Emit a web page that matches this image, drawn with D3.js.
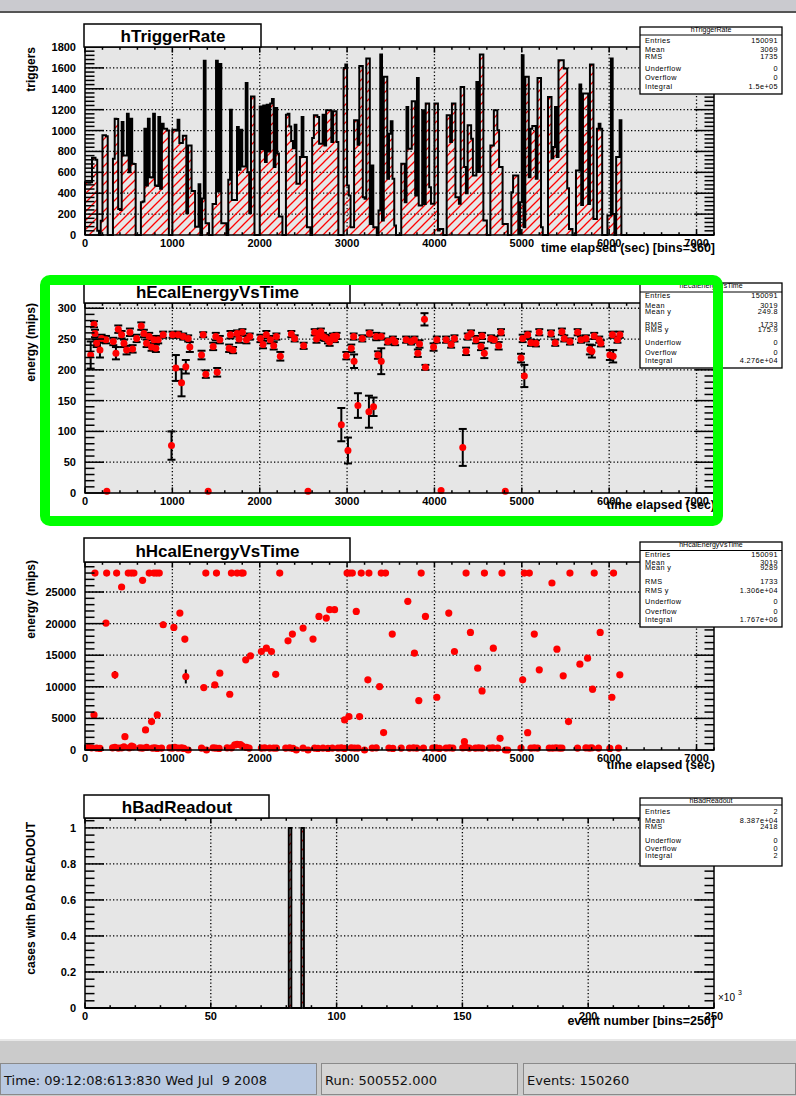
<!DOCTYPE html>
<meta charset="utf-8">
<script src="https://d3js.org/d3.v7.min.js"></script>
<style>
  body { margin: 0; background: #fff; }
  svg text { font-family: "Liberation Sans", Arial, sans-serif; }
</style>
<body>
<div id="canvas"></div>
<script>

// ---------- data ----------

// hTriggerRate: 360 bins of 20 sec
var timeBinWidth = 20;
var triggerCounts = [
  505,505,500,505,740,740,720,40,0,137,954,954,945,0,0,0,730,1114,1110,250,
  240,1082,760,760,1162,600,1114,682,680,0,0,0,314,320,1018,474,1114,554,550,1162,
  474,470,1130,442,1066,1018,1018,1000,0,0,1007,1007,1000,1103,880,880,950,950,208,857,
  857,422,422,80,80,486,0,350,1669,112,112,0,0,297,297,1669,416,1637,112,112,
  112,0,528,1199,336,336,336,1033,624,1007,655,655,1455,600,208,1327,1327,0,0,0,
  1231,820,1240,700,1247,800,1260,1301,650,1215,780,176,176,0,0,1151,1162,1039,900,831,
  1056,490,490,746,1130,746,746,74,74,0,928,1146,1146,1130,874,874,1152,858,1194,1194,
  1194,890,1184,1184,890,0,0,0,1600,1632,474,378,74,74,1098,1098,864,1619,1619,362,
  346,1690,1690,106,666,74,74,0,234,1728,138,1514,1514,538,970,1088,538,90,0,0,
  0,682,682,314,1226,826,826,1280,1280,378,1504,282,282,1194,298,1258,1258,458,300,300,
  1258,1258,42,58,58,0,0,1146,1146,890,1258,1258,362,362,300,1418,1418,650,400,1050,
  1050,922,570,570,1466,602,1728,1728,138,138,0,0,858,858,1194,1194,1002,650,650,106,
  106,106,0,0,410,570,570,570,10,314,1722,74,1514,1514,554,1018,1043,1043,538,1504,
  1504,74,0,0,0,1322,1322,736,842,1226,746,1674,1674,1674,1594,1594,448,58,58,0,
  0,618,618,1440,288,1354,1354,1354,298,1632,1632,154,154,1018,1066,1018,0,0,0,186,
  186,1690,202,0,746,746,1098,0,0,0,0,0,0,0,0,0,0,0,0,0,
  0,0,0,0,0,0,0,0,0,0,0,0,0,0,0,0,0,0,0,0,
  0,0,0,0,0,0,0,0,0,0,0,0,0,0,0,0,0,0,0,0
];

// hEcalEnergyVsTime profile points
var ecalTime = [65,103,114,133,171,190,240,250,324,354,381,419,446,476,514,545,591,644,674,705,
  735,762,789,811,838,895,990,1002,1040,1067,1105,1124,1154,1181,1200,1334,1353,1383,1410,1467,
  1497,1513,1543,1650,1665,1695,1741,1764,1802,1848,1886,2008,2038,2076,2122,2160,2191,2236,2362,2400,
  2503,2553,2629,2650,2678,2700,2724,2750,2781,2800,2838,2860,2880,2934,2991,3010,3048,3075,3080,3124,
  3174,3250,3257,3303,3334,3353,3391,3391,3467,3524,3550,3676,3733,3771,3810,3829,3886,3897,3990,4027,
  4076,4133,4191,4229,4324,4362,4381,4419,4476,4533,4545,4571,4648,4686,4735,4762,4811,4991,5010,5029,
  5067,5105,5162,5200,5334,5383,5459,5486,5551,5639,5677,5734,5779,5802,5829,5886,5905,6008,6038,6046,
  6095,6122];
var ecalMean = [224,274,259,243,232,251,249,3,246,227,266,257,243,232,261,234,251,271,259,243,
  254,237,249,235,249,257,77,257,203,257,179,254,205,251,237,224,257,193,3,238,
  254,196,249,235,257,232,259,250,261,249,254,251,241,257,249,239,254,222,258,251,
  239,3,261,250,257,262,254,252,249,245,254,250,255,111,223,69,235,254,214,142,
  251,132,259,140,254,224,214,254,246,249,245,249,246,249,227,242,282,204,237,249,
  4,249,241,251,74,230,254,259,249,238,255,227,251,249,239,261,3,219,251,190,
  257,244,243,261,259,244,262,251,246,261,249,251,233,230,255,249,243,224,257,222,
  249,257];
var ecalErr = [22,5,6,6,12,6,6,0,6,10,6,6,6,7,6,6,6,6,6,6,
  6,6,6,6,6,5,23,5,21,5,22,5,11,5,8,7,4,6,0,6,
  6,7,6,6,6,5,5,6,5,6,5,6,6,6,6,6,5,7,5,5,
  5,0,5,6,5,5,6,5,6,6,5,5,5,27,6,21,6,5,11,20,
  5,26,5,15,6,6,21,5,5,5,5,5,5,5,6,6,10,4,6,5,
  0,5,5,5,30,6,5,5,6,6,5,8,5,5,6,5,0,7,6,18,
  5,5,5,5,5,5,5,5,5,5,5,5,8,10,5,5,5,8,5,10,
  5,5];

// hHcalEnergyVsTime profile points
var hcalTime = [103,114,240,248,343,362,419,457,495,530,560,659,693,735,762,789,820,827,850,895,
  1017,1086,1143,1154,1360,1383,1486,1505,1543,1657,1676,1741,1790,1810,1840,1894,2019,2076,2134,2183,
  2229,2324,2374,2496,2610,2678,2762,2800,2857,2972,3000,3021,3030,3060,3105,3143,3162,3238,3250,3372,
  3391,3418,3440,3517,3695,3771,3821,3848,3897,4027,4164,4229,4343,4362,4412,4495,4545,4572,4674,4751,
  4773,5010,5029,5067,5086,5143,5200,5345,5402,5474,5535,5551,5665,5753,5810,5829,5897,6031,6050,6122,
  38,76,133,171,316,343,381,419,446,507,533,552,629,659,705,773,800,827,876,972,
  1002,1029,1067,1105,1132,1181,1334,1391,1467,1497,1535,1627,1676,1714,1741,1779,1802,1848,1878,2019,
  2057,2115,2160,2191,2298,2343,2381,2419,2496,2553,2629,2667,2724,2781,2831,2896,2934,2972,3048,3086,
  3124,3200,3288,3334,3479,3524,3619,3714,3760,3798,3874,3981,4019,4057,4133,4172,4210,4324,4362,4400,
  4469,4507,4545,4629,4667,4724,4812,4838,4991,5105,5143,5181,5314,5353,5391,5429,5459,5638,5734,5772,
  5802,5878,6008,6107];
var hcalMean = [5550,28000,20083,28000,11900,28000,25790,2114,28000,28000,28000,26850,3171,28000,4492,28000,28000,5550,28000,19820,
  19400,21670,17550,11630,9880,28000,10300,28000,12150,8826,28000,28000,28000,28000,14270,14900,15590,16120,15590,11990,
  28000,17280,18340,19290,17550,21140,20880,22200,22200,4756,28000,5285,28000,28000,21930,5285,28000,11100,28000,10040,
  28000,2750,28000,18340,23520,15330,7822,28000,21140,8350,21670,15590,1321,28000,18600,12950,9354,28000,16120,1850,
  28000,11100,28000,2748,28000,18340,12680,26425,15960,11730,4492,28000,13580,14530,9618,28000,18600,8350,28000,11890,
  400,350,300,250,350,400,300,350,500,350,600,500,350,300,400,300,350,250,300,350,
  300,400,300,350,250,0,300,0,350,300,250,350,350,800,900,850,600,400,300,300,
  350,300,300,300,300,350,250,0,300,0,300,250,300,250,300,300,350,250,350,300,
  300,0,300,350,300,250,300,300,350,300,300,300,350,250,300,350,300,350,400,300,
  300,350,300,300,350,300,0,0,300,300,350,300,300,300,350,300,300,300,350,300,
  350,300,250,300];
var hcalErr = [300,0,400,0,600,0,300,300,0,0,0,300,300,0,300,0,0,300,0,500,
  300,400,500,1100,300,0,400,0,400,400,0,0,0,0,400,400,300,300,300,500,
  0,400,300,400,400,500,400,300,400,300,0,300,0,0,300,300,0,300,0,300,
  0,300,0,300,400,300,300,0,500,300,500,400,300,0,300,300,300,0,300,300,
  0,500,0,300,0,400,400,300,300,300,300,0,300,400,500,0,300,300,0,300,
  0,0,0,0,0,0,0,0,0,0,0,0,0,0,0,0,0,0,0,0,
  0,0,0,0,0,0,0,0,0,0,0,0,0,0,0,0,0,0,0,0,
  0,0,0,0,0,0,0,0,0,0,0,0,0,0,0,0,0,0,0,0,
  0,0,0,0,0,0,0,0,0,0,0,0,0,0,0,0,0,0,0,0,
  0,0,0,0,0,0,0,0,0,0,0,0,0,0,0,0,0,0,0,0,
  0,0,0,0];

// hBadReadout: entries (bin index in units of 1000 events, count)
var badReadoutBin = [81, 86];
var badReadoutCount = [1, 1];

// tick labels
var timeTicks = [0, 1000, 2000, 3000, 4000, 5000, 6000, 7000];
var triggerTicks = [0, 200, 400, 600, 800, 1000, 1200, 1400, 1600, 1800];
var ecalTicks = [0, 50, 100, 150, 200, 250, 300];
var hcalTicks = [0, 5000, 10000, 15000, 20000, 25000];
var eventTicks = [0, 50, 100, 150, 200, 250];
var badTicks = [0, 0.2, 0.4, 0.6, 0.8, 1];

// stats boxes
var statsTrigger = [["Entries", "150091"], ["Mean", "3069"], ["RMS", "1735"], ["Underflow", "0"], ["Overflow", "0"], ["Integral", "1.5e+05"]];
var statsEcal = [["Entries", "150091"], ["Mean", "3019"], ["Mean y", "249.8"], ["RMS", "1733"], ["RMS y", "175.9"], ["Underflow", "0"], ["Overflow", "0"], ["Integral", "4.276e+04"]];
var statsHcal = [["Entries", "150091"], ["Mean", "3019"], ["Mean y", "9289"], ["RMS", "1733"], ["RMS y", "1.306e+04"], ["Underflow", "0"], ["Overflow", "0"], ["Integral", "1.767e+06"]];
var statsBad = [["Entries", "2"], ["Mean", "8.387e+04"], ["RMS", "2418"], ["Underflow", "0"], ["Overflow", "0"], ["Integral", "2"]];

// ---------- drawing ----------

var W = 796, H = 1096;
var frameLeft = 85, frameRight = 714;

var svg = d3.select("#canvas").append("svg")
  .attr("width", W).attr("height", H);

// hatch pattern like ROOT fill style 3004, red
svg.append("defs").append("pattern")
    .attr("id", "hatch")
    .attr("patternUnits", "userSpaceOnUse")
    .attr("width", 9).attr("height", 9)
  .append("path")
    .attr("d", "M-2,2 l4,-4 M0,9 l9,-9 M7,11 l4,-4")
    .style("stroke", "#ff0000")
    .style("stroke-width", "1.3px")
    .style("fill", "none");

svg.append("rect").attr("x", 0).attr("y", 0).attr("width", W).attr("height", H).attr("fill", "#fff");

// window bar at the top
svg.append("rect").attr("x", 0).attr("y", 0).attr("width", W).attr("height", 11).attr("fill", "#cacacf");
svg.append("line").attr("x1", 0).attr("x2", W).attr("y1", 12).attr("y2", 12).attr("stroke", "#555").attr("stroke-width", 2);

function ticksOf(max, step) {
  return d3.range(0, Math.floor(max / step + 1e-6) + 1).map(function(i) { return i * step; });
}

// frame background, grid and scales
function setupPanel(p) {
  var x = d3.scaleLinear().domain([0, p.xMax]).range([frameLeft, frameRight]);
  var y = d3.scaleLinear().domain([0, p.yMax]).range([p.bottom, p.top]);
  svg.append("rect")
    .attr("x", frameLeft).attr("y", p.top)
    .attr("width", frameRight - frameLeft).attr("height", p.bottom - p.top)
    .attr("fill", "#e6e6e6");
  var grid = svg.append("g")
    .attr("stroke", "#000").attr("stroke-width", 1.3).attr("stroke-dasharray", "1.3,2.2");
  p.xLabels.filter(function(v) { return v > 0 && v < p.xMax; }).forEach(function(v) {
    grid.append("line").attr("x1", x(v)).attr("x2", x(v)).attr("y1", p.top).attr("y2", p.bottom);
  });
  p.yLabels.filter(function(v) { return v > 0 && v < p.yMax; }).forEach(function(v) {
    grid.append("line").attr("x1", frameLeft).attr("x2", frameRight).attr("y1", y(v)).attr("y2", y(v));
  });
  return { x: x, y: y };
}

// frame border, ticks on all sides, labels, title box, stats box
function finishPanel(p, s) {
  var x = s.x, y = s.y;
  var g = svg.append("g").attr("stroke", "#000");
  g.append("rect")
    .attr("x", frameLeft).attr("y", p.top)
    .attr("width", frameRight - frameLeft).attr("height", p.bottom - p.top)
    .attr("fill", "none").attr("stroke-width", 1.5);

  var isMajor = function(list, v) { return list.some(function(m) { return Math.abs(m - v) < 1e-6; }); };

  ticksOf(p.yMax, p.yMinor).forEach(function(v) {
    var len = isMajor(p.yLabels, v) ? 19 : 9.5;
    g.append("line").attr("x1", frameLeft).attr("x2", frameLeft + len).attr("y1", y(v)).attr("y2", y(v)).attr("stroke-width", 1.5);
    g.append("line").attr("x1", frameRight - len).attr("x2", frameRight).attr("y1", y(v)).attr("y2", y(v)).attr("stroke-width", 1.5);
  });
  ticksOf(p.xMax, p.xMinor).forEach(function(v) {
    var len = isMajor(p.xLabels, v) ? 5.6 : 2.8;
    g.append("line").attr("x1", x(v)).attr("x2", x(v)).attr("y1", p.bottom).attr("y2", p.bottom - len).attr("stroke-width", 1.5);
    g.append("line").attr("x1", x(v)).attr("x2", x(v)).attr("y1", p.top).attr("y2", p.top + len).attr("stroke-width", 1.5);
  });

  // tick labels
  svg.append("g").selectAll("text").data(p.yLabels).enter().append("text")
    .attr("x", 76).attr("y", function(d) { return y(d) + 4; })
    .attr("text-anchor", "end").style("font-size", "11px").style("font-weight", "bold")
    .text(function(d) { return String(d); });
  svg.append("g").selectAll("text").data(p.xLabels).enter().append("text")
    .attr("x", function(d) { return x(d); }).attr("y", p.bottom + 12)
    .attr("text-anchor", "middle").style("font-size", "11px").style("font-weight", "bold")
    .text(function(d) { return String(d); });

  // axis titles
  svg.append("text")
    .attr("transform", "translate(" + 35 + "," + (p.top + p.yTitleShift) + ") rotate(-90)")
    .attr("text-anchor", "end").style("font-size", "12px").style("font-weight", "bold")
    .text(p.yTitle);
  svg.append("text")
    .attr("x", 715).attr("y", p.xTitleY)
    .attr("text-anchor", "end").style("font-size", "12.5px").style("font-weight", "bold")
    .text(p.xTitle);

  // title box
  svg.append("rect")
    .attr("x", frameLeft - 1).attr("y", p.titleTop)
    .attr("width", p.titleRight - frameLeft + 1).attr("height", p.top - p.titleTop)
    .attr("fill", "#fff").attr("stroke", "#000").attr("stroke-width", 1.5);
  svg.append("text")
    .attr("x", (frameLeft + p.titleRight) / 2).attr("y", p.top - 5)
    .attr("text-anchor", "middle").style("font-size", "17px").style("font-weight", "bold")
    .text(p.title);

  // stats box
  var st = p.stats;
  svg.append("rect")
    .attr("x", 640).attr("y", st.top).attr("width", 142).attr("height", st.bottom - st.top)
    .attr("fill", "#fff").attr("stroke", "#000").attr("stroke-width", 1.3);
  svg.append("line").attr("x1", 640).attr("x2", 782).attr("y1", st.sep).attr("y2", st.sep)
    .attr("stroke", "#000").attr("stroke-width", 1);
  svg.append("text")
    .attr("x", 711).attr("y", st.top + 5).attr("text-anchor", "middle")
    .style("font-size", "7px").text(p.title);
  var rows = svg.append("g").style("font-size", "7.3px").style("letter-spacing", "0.4px");
  st.rows.forEach(function(r, i) {
    rows.append("text").attr("x", 645).attr("y", st.rowY[i] + 2.6).text(r[0]);
    rows.append("text").attr("x", 778).attr("y", st.rowY[i] + 2.6).attr("text-anchor", "end").text(r[1]);
  });
}

// step outline of a histogram
function histPoints(counts, binW, s) {
  var pts = [[s.x(0), s.y(0)]];
  counts.forEach(function(v, i) {
    pts.push([s.x(i * binW), s.y(v)]);
    pts.push([s.x((i + 1) * binW), s.y(v)]);
  });
  pts.push([s.x(counts.length * binW), s.y(0)]);
  return pts;
}

// ---- panel 1: hTriggerRate ----
var p1 = {
  top: 47, bottom: 235, xMax: 7200, yMax: 1800, xMinor: 200, yMinor: 40,
  xLabels: timeTicks, yLabels: triggerTicks,
  title: "hTriggerRate", titleTop: 24, titleRight: 261,
  yTitle: "triggers", yTitleShift: 0, xTitle: "time elapsed (sec) [bins=360]", xTitleY: 252,
  stats: { top: 27, bottom: 94, sep: 35, rows: statsTrigger, rowY: [40, 49.3, 56.7, 68.3, 77.3, 86] }
};
var s1 = setupPanel(p1);
svg.append("path")
  .attr("d", d3.line()(histPoints(triggerCounts, timeBinWidth, s1)))
  .attr("fill", "url(#hatch)").attr("stroke", "#000").attr("stroke-width", 2)
  .attr("stroke-linejoin", "miter");
finishPanel(p1, s1);

// ---- panel 2: hEcalEnergyVsTime ----
var p2 = {
  top: 303, bottom: 493, xMax: 7200, yMax: 308.5, xMinor: 200, yMinor: 10,
  xLabels: timeTicks, yLabels: ecalTicks,
  title: "hEcalEnergyVsTime", titleTop: 281, titleRight: 350,
  yTitle: "energy (mips)", yTitleShift: 0, xTitle: "time elapsed (sec)", xTitleY: 509,
  stats: { top: 283, bottom: 368, sep: 292, rows: statsEcal, rowY: [295.5, 305, 311.7, 324.3, 329.5, 342.7, 352.7, 360.7] }
};
var s2 = setupPanel(p2);
var eb2 = svg.append("g").attr("stroke", "#000").attr("stroke-width", 2);
ecalTime.forEach(function(t, i) {
  if (ecalErr[i] <= 0) return;
  var cx = s2.x(t), y0 = s2.y(ecalMean[i] - ecalErr[i]), y1 = s2.y(ecalMean[i] + ecalErr[i]);
  eb2.append("line").attr("x1", cx).attr("x2", cx).attr("y1", y0).attr("y2", y1);
  eb2.append("line").attr("x1", cx - 4).attr("x2", cx + 4).attr("y1", y0).attr("y2", y0);
  eb2.append("line").attr("x1", cx - 4).attr("x2", cx + 4).attr("y1", y1).attr("y2", y1);
});
svg.append("g").selectAll("circle").data(ecalTime).enter().append("circle")
  .attr("cx", function(d) { return s2.x(d); })
  .attr("cy", function(d, i) { return s2.y(ecalMean[i]); })
  .attr("r", 3.5).attr("fill", "#ff0000");
finishPanel(p2, s2);

// ---- panel 3: hHcalEnergyVsTime ----
var p3 = {
  top: 562, bottom: 750, xMax: 7200, yMax: 29750, xMinor: 200, yMinor: 1000,
  xLabels: timeTicks, yLabels: hcalTicks,
  title: "hHcalEnergyVsTime", titleTop: 538, titleRight: 350,
  yTitle: "energy (mips)", yTitleShift: -2, xTitle: "time elapsed (sec)", xTitleY: 769,
  stats: { top: 542, bottom: 627, sep: 550.5, rows: statsHcal, rowY: [554.5, 562.7, 567.3, 581.7, 590, 601, 611, 619.3] }
};
var s3 = setupPanel(p3);
var eb3 = svg.append("g").attr("stroke", "#000").attr("stroke-width", 2);
hcalTime.forEach(function(t, i) {
  if (hcalErr[i] <= 0) return;
  var cx = s3.x(t);
  eb3.append("line").attr("x1", cx).attr("x2", cx)
    .attr("y1", s3.y(hcalMean[i] - hcalErr[i])).attr("y2", s3.y(hcalMean[i] + hcalErr[i]));
});
svg.append("g").selectAll("circle").data(hcalTime).enter().append("circle")
  .attr("cx", function(d) { return s3.x(d); })
  .attr("cy", function(d, i) { return s3.y(hcalMean[i]); })
  .attr("r", 3.6).attr("fill", "#ff0000");
finishPanel(p3, s3);

// ---- panel 4: hBadReadout ----
var p4 = {
  top: 818, bottom: 1008, xMax: 250, yMax: 1.055, xMinor: 10, yMinor: 0.04,
  xLabels: eventTicks, yLabels: badTicks,
  title: "hBadReadout", titleTop: 795, titleRight: 269,
  yTitle: "cases with BAD READOUT", yTitleShift: 4, xTitle: "event number [bins=250]", xTitleY: 1025,
  stats: { top: 798, bottom: 866, sep: 805, rows: statsBad, rowY: [811.7, 820, 826.7, 840, 848.5, 855.5] }
};
var s4 = setupPanel(p4);
var badCounts = new Array(250).fill(0);
badReadoutBin.forEach(function(b, i) { badCounts[b] = badReadoutCount[i]; });
svg.append("path")
  .attr("d", d3.line()(histPoints(badCounts, 1, s4)))
  .attr("fill", "url(#hatch)").attr("stroke", "#000").attr("stroke-width", 2);
finishPanel(p4, s4);
svg.append("text").attr("x", 718).attr("y", 1001).style("font-size", "10px").text("\u00d710");
svg.append("text").attr("x", 738).attr("y", 995).style("font-size", "7px").text("3");

// ---- highlight around panel 2 ----
svg.append("rect")
  .attr("x", 45).attr("y", 280).attr("width", 673).attr("height", 241).attr("rx", 5)
  .attr("fill", "none").attr("stroke", "#00ff00").attr("stroke-width", 10);

// ---- status bar ----
svg.append("line").attr("x1", 0).attr("x2", W).attr("y1", 1040).attr("y2", 1040).attr("stroke", "#e8e8e8").attr("stroke-width", 2);
svg.append("rect").attr("x", 0).attr("y", 1041).attr("width", W).attr("height", 55).attr("fill", "#cbcbcb");
var fields = [
  { x: 0, w: 317, fill: "#b9c9e1", text: "Time: 09:12:08:613:830 Wed Jul\u00a0 9 2008" },
  { x: 321, w: 197, fill: "#d4d4d4", text: "Run: 500552.000" },
  { x: 523, w: 273, fill: "#d4d4d4", text: "Events: 150260" }
];
fields.forEach(function(f) {
  svg.append("rect").attr("x", f.x + 0.5).attr("y", 1063.5).attr("width", f.w - 1).attr("height", 31)
    .attr("fill", f.fill).attr("stroke", "#8a8a8a").attr("stroke-width", 1);
  svg.append("text").attr("x", f.x + 4).attr("y", 1085)
    .style("font-family", "DejaVu Sans").style("font-size", "13px").attr("fill", "#111")
    .text(f.text);
});

</script>
